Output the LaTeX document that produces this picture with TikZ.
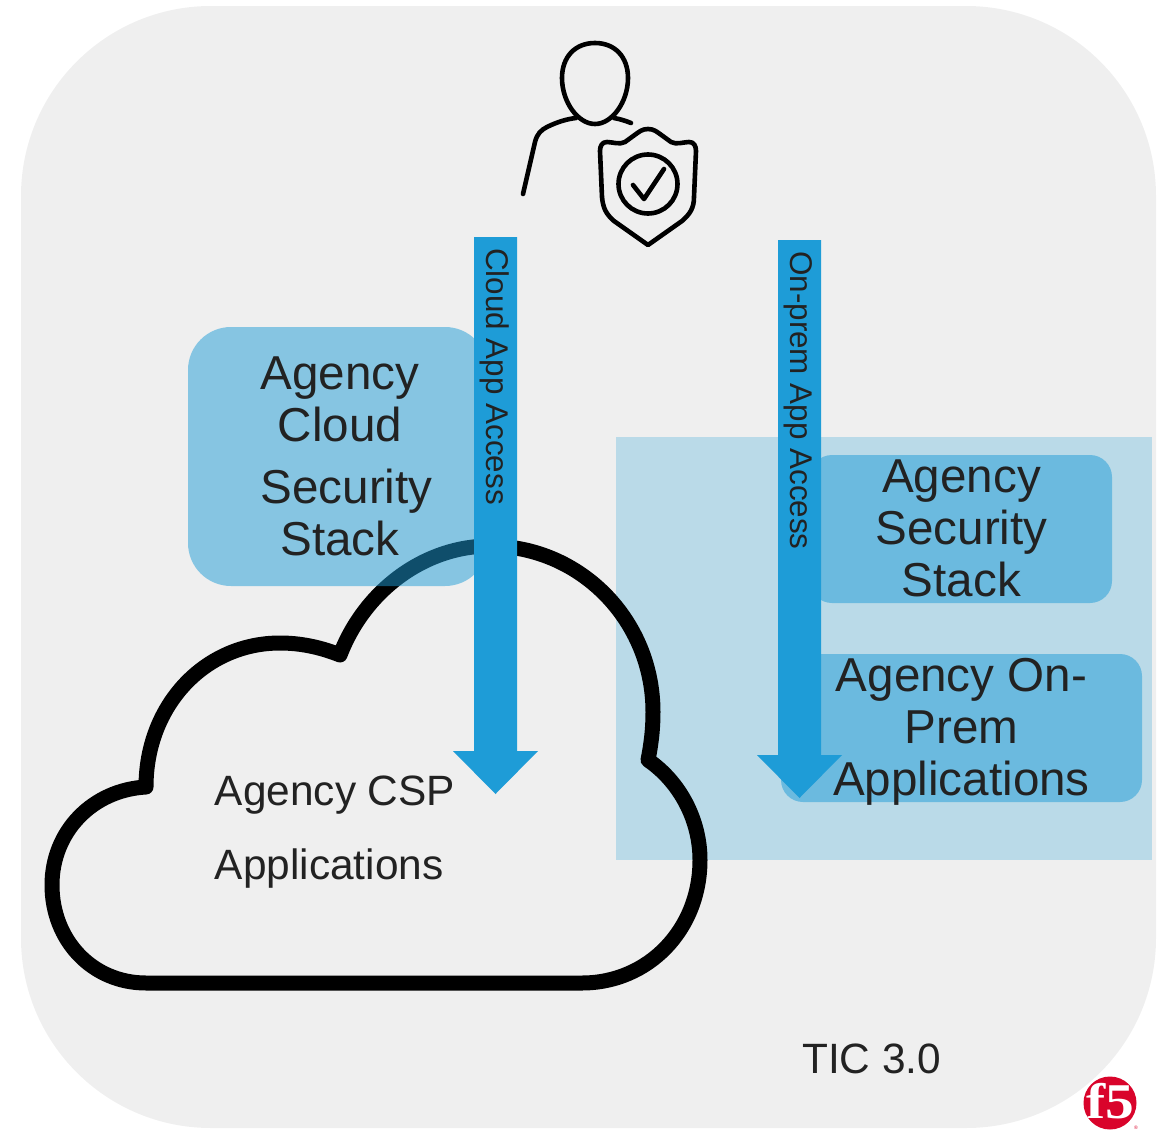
\documentclass[tikz,border=0pt]{standalone}
\usepackage{fontspec}
\setmainfont{Liberation Sans}
\newfontfamily\logofont{Liberation Serif}
\definecolor{panelbg}{HTML}{EFEFEF}
\definecolor{brandblue}{HTML}{1E9CD7}
\definecolor{inkdark}{HTML}{222222}
\definecolor{f5red}{HTML}{D9042B}
\tikzset{
  x=1pt,y=-1pt,
  softbox/.style={fill=brandblue,fill opacity=.5,inner sep=0pt,draw=none},
  boxtext/.style={text=inkdark,align=center,inner sep=0pt,font=\fontsize{47.6}{52}\selectfont},
  plaintext/.style={text=inkdark,inner sep=0pt,font=\fontsize{42.4}{74}\selectfont},
  arrowbody/.style={fill=brandblue,draw=none},
  arrowtext/.style={text=inkdark,rotate=-90,anchor=base west,inner sep=0pt,font=\fontsize{31.4}{32}\selectfont},
  iconline/.style={draw=black,line width=4.6pt,line cap=round,line join=round},
  cloudline/.style={draw=black,line width=15pt,line cap=round,line join=round}
}
\begin{document}
\begin{tikzpicture}
\useasboundingbox (0,0) rectangle (1168,1135);
% panel
\fill[panelbg,rounded corners=190pt] (21,6) rectangle (1156,1128);
% on-prem zone
\fill[brandblue,opacity=.25] (616,437) rectangle (1152,860);
% cloud
\path[cloudline] (146,787)
  .. controls (92,790) and (52,832) .. (52,885)
  .. controls (52,940) and (92,983) .. (146,983)
  -- (582,983)
  .. controls (648,983) and (700,930) .. (700,860)
  .. controls (700,820) and (680,782) .. (648,760)
  .. controls (652,740) and (653,725) .. (653,712)
  .. controls (653,620) and (580,546) .. (490,546)
  .. controls (425,546) and (365,590) .. (340,655)
  .. controls (320,647) and (300,643) .. (280,643)
  .. controls (205,643) and (146,705) .. (146,787)
  -- cycle;
% boxes
\node[softbox,rounded corners=43pt,minimum width=300pt,minimum height=259pt] (cloudstack) at (338,456.5) {};
\node[softbox,rounded corners=22pt,minimum width=302pt,minimum height=148pt] (secstack) at (961,529) {};
\node[softbox,rounded corners=22pt,minimum width=361pt,minimum height=148pt] (onpremapps) at (961.5,728) {};
% arrows
\fill[arrowbody] (474,237) -- (517,237) -- (517,751) -- (538,751) -- (495.5,794) -- (453,751) -- (474,751) -- cycle;
\fill[arrowbody] (778,240) -- (821,240) -- (821,755) -- (842,755) -- (799.5,798) -- (757,755) -- (778,755) -- cycle;
\node[arrowtext] (cloudlabel) at (486.5,248) {Cloud App Access};
\node[arrowtext] (onpremlabel) at (790,251) {On-prem App Access};
% box text
\node[boxtext,anchor=center] (cloudtext) at (340,456) {Agency\\Cloud\\[10pt]\hspace*{13pt}Security\\Stack};
\node[boxtext] (sectext) at (961.5,528) {Agency\\Security\\Stack};
\node[boxtext] (apptext) at (961.5,731.5) {Agency On-\\Prem\\Applications};
\node[plaintext,align=left,anchor=center] (csptext) at (335,832) {Agency CSP\\Applications};
\node[plaintext,anchor=base west] (tictext) at (802,1073) {TIC 3.0};
% person
\path[iconline] (595,43) .. controls (575,43) and (562,57) .. (562,78)
  .. controls (562,102) and (578,124) .. (595,124)
  .. controls (612,124) and (628,102) .. (628,78)
  .. controls (628,57) and (615,43) .. (595,43) -- cycle;
\path[iconline] (523,194) -- (535,142) .. controls (537,134) and (541,130) .. (547,127)
  .. controls (557,122) and (567,119) .. (576,118);
\path[iconline] (614,118) .. controls (620,119) and (626,121) .. (631,123);
% shield
\path[iconline] (648,129) .. controls (642,129) and (639,132) .. (636,134)
  -- (625,142) .. controls (620,145) and (612,142) .. (607,142)
  .. controls (602,142) and (600,146) .. (600,151)
  -- (602,197) .. controls (603,208) and (606,214) .. (614,221)
  -- (648,245) -- (682,221) .. controls (690,214) and (694,208) .. (694,197)
  -- (696,151) .. controls (696,146) and (694,142) .. (689,142)
  .. controls (684,142) and (676,145) .. (671,142)
  -- (660,134) .. controls (657,132) and (654,129) .. (648,129) -- cycle;
\node[circle,iconline,minimum size=59pt,inner sep=0pt] (badge) at (648,184) {};
\path[iconline] (633,185) -- (644,199) -- (664,169);
% logo
\node[circle,fill=f5red,minimum size=53pt,inner sep=0pt] (logo) at (1110,1103) {};
\node[text=white,inner sep=0pt,font=\logofont\bfseries\fontsize{50}{50}\selectfont] (logotext) at (1110.5,1101) {\scalebox{1.15}[1]{f5}};
\node[text=f5red,inner sep=0pt,font=\fontsize{5}{5}\selectfont] (logomark) at (1136,1128) {®};
\end{tikzpicture}
\end{document}
